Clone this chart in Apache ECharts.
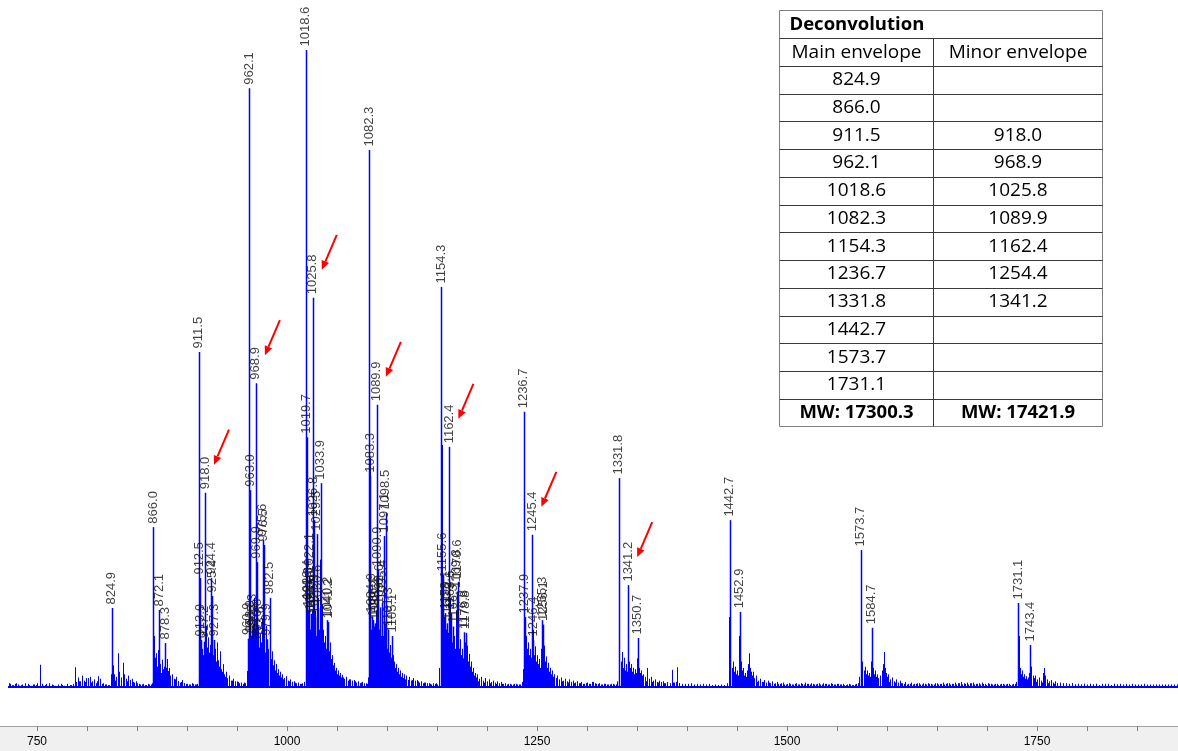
<!DOCTYPE html>
<html><head><meta charset="utf-8">
<script src="https://cdn.jsdelivr.net/npm/echarts@6/dist/echarts.min.js"></script>
<style>html,body{margin:0;padding:0;background:#fff;}#c{width:1178px;height:751px;}</style>
</head><body><div id="c"></div>
<script>
// ---------- DATA ----------
// labelled peaks: [m/z, relative intensity %]
const labeledPeaks = [
  [824.9,12.4],
  [866.0,25.1],[872.1,12.1],[878.3,6.9],
  [911.5,52.6],[912.5,17.1],[913.9,7.4],[917.2,7.1],[918.0,30.5],[924.4,17.1],[925.4,14.3],[927.3,7.4],
  [960.9,7.6],[962.1,94.0],[963.0,30.9],[963.9,8.0],[965.3,9.0],[967.8,7.2],[968.9,47.7],[969.9,19.6],[970.8,8.2],[973.6,7.0],[975.6,23.1],[976.5,22.3],[979.9,7.5],[982.5,14.0],
  [1018.6,100],[1019.7,39.2],[1020.4,13.2],[1021.3,12.0],[1022.1,17.4],[1023.5,11.5],[1024.6,10.8],[1025.8,61.1],[1026.8,26.2],[1027.9,11.0],[1029.5,24.0],[1030.6,12.4],[1033.9,32.0],[1040.2,10.5],[1041.2,10.2],
  [1082.3,84.3],[1083.3,33.1],[1084.9,11.1],[1086.1,10.5],[1088.2,10.0],[1089.9,44.3],[1090.9,18.4],[1092.6,12.5],[1095.4,13.2],[1097.1,23.7],[1098.5,27.3],[1101.3,9.0],[1105.1,8.0],
  [1154.3,62.8],[1155.6,17.6],[1158.1,11.6],[1160.2,10.0],[1162.4,37.7],[1163.6,11.6],[1166.3,9.5],[1169.8,15.0],[1170.6,16.5],[1176.8,8.6],[1178.8,8.5],
  [1236.7,43.2],[1237.9,11.0],[1245.4,23.9],[1246.4,7.4],[1255.3,10.5],[1256.1,9.8],
  [1331.8,32.8],[1341.2,16.0],[1350.7,7.7],
  [1442.7,26.2],[1452.9,11.8],
  [1573.7,21.5],[1584.7,9.3],
  [1731.1,13.2],[1743.4,6.6]
];
// unlabelled signal: shoulders, satellites and spikes [m/z, %]
const minorSignal = [
  [722,0.6],[725,0.3],[728,0.5],[731,0.4],[734,0.3],[738,0.6],[742,0.3],[746,0.4],[749,0.3],[753,3.5],[755,0.5],[758,0.3],[762,0.6],[766,0.3],[771,0.4],[775,0.3],[780,0.5],[784,0.3],[788,3.1],[789,0.8],
  [791,1.5],[793,0.9],[795,1.8],[797,1.0],[799,1.4],[801,0.7],[803,1.6],[805,0.9],[807,1.2],[809,0.6],[811,1.7],[813,0.9],[815,0.5],[818,0.4],[821,0.3],
  [824,2.0],[826,3.4],[827,2.0],[829,1.6],[831,5.3],[832,2.4],[834,1.5],[836,3.8],[837,2.0],[839,1.3],[841,1.8],[843,1.0],[845,1.3],[847,0.7],[850,0.6],[853,0.4],[856,0.5],[859,0.3],[862,0.4],[865,0.6],
  [866.6,8.0],[867.5,4.6],[868.5,5.3],[869.5,3.2],[870.5,5.8],[871.3,3.0],[873,3.6],[874,2.2],[875,4.3],[876,2.6],[877,3.2],[879.2,3.0],[880,4.4],[881,2.5],[882,3.0],[883,1.8],[885,2.0],[887,1.3],[889,1.6],[891,0.9],[893,0.7],[895,1.1],[897,0.6],[899,0.5],[902,0.4],[905,0.6],[908,0.4],[910,0.5],
  [911.9,50.0],[913,9.0],[914.5,6.0],[915.5,5.0],[916.5,4.4],[918.6,9.6],[919.5,6.2],[920.5,7.8],[921.5,5.4],[922.5,6.6],[923.5,4.8],[926,5.0],[928,6.0],[929,4.0],[930,7.0],[931,4.2],[932,3.2],[933,5.6],[934,2.8],[935,2.4],[936,3.6],[937,2.0],[938,1.6],[939,2.4],[940,1.4],[942,1.8],[944,1.0],[946,1.3],[948,0.8],[950,0.9],[952,0.6],[954,0.7],[956,0.5],[958,0.6],
  [960,2.5],[961.5,5.0],[964.4,6.0],[966,10.0],[966.8,6.5],[967.3,14.0],[968.2,9.0],[969.4,18.0],[971.2,9.5],[972,6.2],[973,8.4],[974.3,5.6],[975,10.6],[977,8.2],[978,5.4],[979,9.6],[980.5,6.0],[981.4,5.0],[983.2,7.0],[984,4.4],[985,5.6],[986,3.4],[987,4.2],[988,2.6],[989,3.6],[990,2.2],[991,2.8],[992,1.8],[993,2.4],[994,1.5],[995,2.0],[997,1.4],[999,1.7],[1001,1.0],[1003,1.2],[1005,0.8],[1007,0.9],[1009,0.6],[1011,0.7],[1013,0.5],[1015,0.6],[1017,0.8],
  [1019.1,62.0],[1020.9,9.0],[1021.7,8.0],[1022.8,9.0],[1024,8.0],[1025.2,12.0],[1026.3,14.0],[1027.4,9.0],[1028.4,12.0],[1029,8.0],[1030.1,10.0],[1031.2,14.0],[1032,9.0],[1032.8,20.0],[1033.4,12.0],[1034.6,13.0],[1035.5,9.0],[1036.5,7.0],[1037.5,8.0],[1038.5,6.0],[1039.5,7.0],[1040.8,6.0],[1042,5.6],[1043,7.0],[1044,4.4],[1045,5.0],[1046,3.4],[1047,3.8],[1048,2.6],[1049,3.0],[1050,2.0],[1051,2.6],[1052,1.8],[1053,2.2],[1054,1.5],[1055,1.9],[1057,1.3],[1059,1.6],[1061,1.0],[1063,1.2],[1065,0.9],[1067,1.1],[1069,0.7],[1071,0.9],[1073,0.6],[1075,0.8],[1077,0.5],[1079,0.6],[1081,1.5],
  [1082.8,36.0],[1083.9,9.0],[1085.5,7.0],[1086.8,9.5],[1087.5,6.0],[1088.8,8.0],[1089.4,12.0],[1090.4,14.0],[1091.5,9.0],[1092,7.0],[1093.2,10.0],[1094,8.0],[1094.8,11.0],[1096,8.0],[1096.6,12.0],[1097.7,10.0],[1099.2,9.0],[1100,6.0],[1100.7,7.0],[1102,5.4],[1103,6.6],[1104,4.6],[1105.8,5.0],[1107,4.0],[1108,3.0],[1109,3.6],[1110,2.4],[1111,3.0],[1112,2.0],[1113,2.6],[1114,1.6],[1115,2.2],[1116,1.4],[1117,2.0],[1118,1.2],[1119,1.8],[1121,1.1],[1122,1.6],[1124,1.0],[1126,1.4],[1128,0.8],[1130,1.1],[1132,0.7],[1134,0.9],[1136,0.6],[1138,0.7],[1140,0.5],[1142,0.6],[1144,0.4],[1146,0.6],[1148,0.5],[1150,0.4],[1152,0.6],[1153.5,1.5],
  [1154.8,38.0],[1156.5,11.0],[1157.3,8.0],[1158.7,9.0],[1159.5,7.0],[1160.9,8.5],[1161.6,10.0],[1163,14.0],[1164.4,9.0],[1165.2,7.0],[1167,8.0],[1168,6.0],[1168.9,12.0],[1171.3,10.0],[1172,6.0],[1173,7.5],[1174,5.0],[1175,6.0],[1176,4.5],[1177.5,7.0],[1179.5,6.5],[1180.5,4.0],[1181.5,5.2],[1182.5,3.2],[1183.5,4.0],[1184.5,2.4],[1186,3.0],[1187,1.8],[1188,2.2],[1189,1.5],[1190,2.0],[1192,1.3],[1194,1.6],[1196,1.0],[1198,1.4],[1200,0.9],[1202,1.2],[1204,0.8],[1206,1.0],[1208,0.7],[1210,0.9],[1212,0.6],[1214,0.8],[1216,0.5],[1218,0.6],[1220,0.4],[1223,0.5],[1226,0.4],[1229,0.5],[1232,0.4],[1235,0.8],
  [1237.2,40.0],[1238.5,8.0],[1239.5,6.0],[1240.5,7.0],[1241.5,5.0],[1242.5,6.0],[1243.5,4.6],[1244.5,6.0],[1245.9,9.0],[1247.2,5.0],[1248,6.4],[1249,4.0],[1250,5.0],[1251,3.6],[1252,4.4],[1253,3.0],[1254.4,6.0],[1256.8,6.5],[1257.6,4.0],[1258.5,4.8],[1259.5,3.0],[1260.5,3.8],[1261.5,2.4],[1262.5,3.0],[1263.5,2.0],[1265,2.6],[1266,1.6],[1267,2.0],[1268.5,1.4],[1270,1.8],[1272,1.2],[1274,1.5],[1276,1.0],[1278,1.3],[1280,0.9],[1282,1.2],[1284,0.8],[1286,1.0],[1288,0.7],[1290,0.9],[1292,0.6],[1294,0.8],[1297,0.5],[1300,0.7],[1303,0.5],[1306,0.8],[1309,0.5],[1312,0.6],[1315,0.4],[1318,0.5],[1321,0.4],[1324,0.5],[1327,0.4],[1330,0.9],
  [1332.3,30.9],[1333.5,4.0],[1334.5,5.5],[1335.5,3.0],[1336.5,4.6],[1337.5,2.6],[1338.5,3.6],[1339.5,2.4],[1340.6,12.9],[1342,4.0],[1343,3.0],[1344,3.6],[1345,2.4],[1346,3.0],[1347,2.0],[1348,2.8],[1349,2.2],[1350.1,4.5],[1351.5,3.0],[1352.5,2.2],[1353.5,2.6],[1355,1.8],[1356,2.0],[1358,1.6],[1360,3.0],[1362,1.3],[1364,1.6],[1366,1.0],[1368,1.2],[1370,0.8],[1372,1.0],[1374,0.7],[1376,0.9],[1378,0.6],[1380,0.8],[1383,0.5],[1385,2.7],[1387,0.7],[1390,3.1],[1392,0.6],[1395,0.4],[1398,0.5],[1401,0.4],[1404,0.6],[1407,0.4],[1410,0.5],[1413,0.4],[1416,0.5],[1419,0.4],[1422,0.5],[1425,0.3],[1428,0.4],[1431,0.3],[1434,0.4],[1437,0.3],[1440,0.6],
  [1442.2,11.0],[1443.3,5.0],[1444.5,3.0],[1445.5,4.0],[1446.5,2.4],[1447.5,3.2],[1448.5,2.0],[1449.5,2.6],[1450.5,1.8],[1451.5,3.0],[1452.3,8.0],[1453.5,4.0],[1454.5,2.6],[1455.5,3.0],[1456.5,1.8],[1458,2.2],[1459,1.6],[1460,2.6],[1461,3.6],[1462,5.3],[1463,3.0],[1464,2.4],[1465,1.8],[1466,2.4],[1467,1.4],[1469,1.8],[1471,1.0],[1473,1.3],[1475,0.8],[1477,1.1],[1479,0.7],[1481,1.0],[1483,0.6],[1485,0.9],[1487,0.5],[1490,0.8],[1493,0.5],[1496,0.7],[1499,0.4],[1502,0.6],[1505,0.4],[1508,0.5],[1511,0.4],[1514,0.6],[1517,0.4],[1520,0.5],[1523,0.4],[1526,0.5],[1529,0.4],[1532,0.6],[1535,0.4],[1538,0.5],[1541,0.4],[1544,0.6],[1547,0.4],[1550,0.5],[1553,0.4],[1556,0.5],[1559,0.3],[1562,0.5],[1565,0.3],[1568,0.4],[1571,0.6],
  [1574.2,14.0],[1575.3,4.0],[1576.5,2.6],[1577.5,3.2],[1578.5,2.0],[1579.5,2.6],[1580.5,1.8],[1581.5,2.2],[1582.5,1.6],[1583.7,4.0],[1585.5,3.0],[1586.5,2.0],[1587.5,2.6],[1588.5,1.6],[1590,2.0],[1591,1.4],[1593,1.8],[1595,2.6],[1596,3.6],[1597,5.5],[1598,3.0],[1599,2.2],[1600,1.6],[1601,2.0],[1603,1.2],[1605,1.5],[1607,0.9],[1609,1.2],[1611,0.7],[1613,1.0],[1615,0.6],[1618,0.8],[1621,0.5],[1624,0.7],[1627,0.5],[1630,0.6],[1633,0.4],[1636,0.6],[1639,0.4],[1642,0.5],[1645,0.4],[1648,0.6],[1651,0.4],[1654,0.5],[1657,0.4],[1660,0.6],[1663,0.4],[1666,0.5],[1669,0.4],[1672,0.6],[1675,0.4],[1678,0.5],[1681,0.4],[1684,0.6],[1687,0.4],[1690,0.5],[1693,0.4],[1696,0.5],[1699,0.3],[1702,0.5],[1705,0.4],[1708,0.5],[1711,0.3],[1714,0.5],[1717,0.4],[1720,0.5],[1723,0.3],[1726,0.5],[1729,0.8],
  [1731.6,8.0],[1732.7,3.0],[1734,2.0],[1735,2.6],[1736,1.6],[1737,2.0],[1738,1.3],[1739,1.7],[1740,1.2],[1741,1.5],[1742,2.2],[1744.2,3.2],[1745.5,1.8],[1747,1.4],[1748,1.8],[1750,1.2],[1752,1.5],[1754,1.0],[1756,2.2],[1757,3.0],[1758,1.8],[1760,1.2],[1762,0.9],[1764,1.1],[1766,0.7],[1768,0.9],[1770,0.6],[1773,0.7],[1776,0.5],[1779,0.6],[1782,0.4],[1785,0.6],[1788,0.4],[1791,0.5],[1794,0.4],[1797,0.5],[1800,0.3],[1803,0.5],[1806,0.4],[1809,0.5],[1812,0.3],[1815,0.5],[1818,0.4],[1821,0.5],[1824,0.3],[1827,0.5],[1830,0.4],[1833,0.5],[1836,0.3],[1839,0.4],[1842,0.3],[1845,0.5],[1848,0.3],[1851,0.4],[1854,0.3],[1857,0.5],[1860,0.3],[1863,0.4],[1866,0.3],[1869,0.4],[1872,0.3],[1875,0.4],[1878,0.3],[1881,0.4],[1884,0.3],[1887,0.4],[1890,0.3]
];
// baseline noise, read in 3-unit bins starting at m/z 722.5 (%)
const noiseStart = 722.5, noiseStep = 3;
const baselineNoise = [
  0.5,0.3,0.6,0.2,0.4,0.3,0.5,0.2,0.4,0.6,0.3,0.2,0.5,0.3,0.4,0.2,0.3,0.5,0.2,0.4,
  0.3,0.5,0.3,0.9,1.2,0.8,1.4,0.7,1.1,0.9,1.3,0.6,0.4,0.3,0.5,1.0,1.6,1.2,1.4,0.9,
  1.1,0.8,0.9,0.5,0.4,0.3,0.5,0.4,2.0,2.6,2.2,2.8,2.0,1.8,1.4,1.2,0.9,0.8,0.6,0.5,
  0.4,0.5,0.4,3.0,3.6,4.0,3.2,3.4,2.6,2.8,2.0,1.6,1.4,1.2,1.0,0.9,0.8,0.6,0.7,0.5,
  3.5,4.0,4.5,3.8,3.6,3.0,2.6,2.2,1.8,1.6,1.4,1.2,1.0,0.9,0.8,0.7,0.6,0.5,0.8,3.0,
  4.0,4.5,4.2,3.8,3.4,3.0,2.8,2.4,2.0,1.8,1.6,1.5,1.3,1.2,1.0,0.9,0.8,0.7,0.6,0.5,
  3.5,4.0,4.2,3.6,3.2,2.8,2.4,2.0,1.8,1.6,1.5,1.4,1.3,1.2,1.1,1.0,0.9,0.8,0.7,0.6,
  0.5,0.4,0.6,3.0,3.8,3.6,3.2,3.0,2.6,2.2,2.0,1.6,1.4,1.2,1.1,1.0,0.9,0.8,0.7,0.6,
  0.6,0.5,0.5,0.4,0.5,0.4,0.5,0.4,0.5,0.4,0.4,2.8,2.6,2.4,2.6,2.2,2.0,1.8,2.0,1.6,
  1.4,1.2,1.1,1.0,0.9,0.8,0.7,0.8,0.6,0.7,0.6,0.5,0.6,0.5,0.8,0.6,0.5,0.4,0.5,0.4,
  0.4,0.5,0.4,2.0,2.4,1.8,1.6,1.8,1.4,1.2,1.3,1.0,0.9,1.0,0.8,0.9,0.7,0.8,0.6,0.7,
  0.6,0.7,0.8,0.6,0.5,0.4,0.5,0.4,0.3,0.4,0.3,0.2,0.3,0.2,0.3,0.2,0.3,0.2,0.2,0.3,
  2.0,1.8,1.6,1.4,1.6,1.2,1.0,0.9,1.0,0.8,0.7,0.8,0.6,0.7,0.5,0.6,0.5,0.6,0.4,0.5,
  0.5,0.4,0.6,0.4,0.5,0.7,0.5,0.6,0.4,0.5,0.4,0.6,0.5,0.4,0.5,0.4,0.5,0.4,0.3,0.4,
  0.4,0.3,0.5,1.6,1.4,1.2,1.3,1.0,1.1,0.9,1.2,0.8,0.7,0.8,0.6,0.7,0.5,0.6,0.5,0.4,
  0.5,0.4,0.5,0.6,0.4,0.5,0.6,0.5,0.4,0.6,0.5,0.7,0.5,0.6,0.5,0.7,0.6,0.8,0.6,0.7,
  0.6,0.7,0.5,0.6,0.7,0.5,0.6,0.5,0.4,0.5,0.4,0.5,0.4,0.5,0.4,0.5,1.4,1.2,1.0,1.1,
  0.9,1.0,0.8,0.9,0.7,0.8,0.6,0.7,0.5,0.6,0.5,0.6,0.4,0.5,0.6,0.4,0.5,0.4,0.5,0.4,
  0.5,0.4,0.5,0.3,0.4,0.5,0.4,0.3,0.5,0.4,0.3,0.4,0.5,0.4,0.3,0.4,0.3,0.4,0.3,0.4,
  0.3,0.4,0.3,0.4,0.3,0.4,0.3,0.4,0.3,0.4
];
const spectrumRange = [721, 1891];
const arrowTargets = [918.0, 968.9, 1025.8, 1089.9, 1162.4, 1245.4, 1341.2];
const tickValues = [750,800,850,900,950,1000,1050,1100,1150,1200,1250,1300,1350,1400,1450,1500,1550,1600,1650,1700,1750,1800,1850];
const tickLabels = [750,1000,1250,1500,1750];
const tableTitle = 'Deconvolution';
const tableHeaders = ['Main envelope','Minor envelope'];
const mainEnvelope = ['824.9','866.0','911.5','962.1','1018.6','1082.3','1154.3','1236.7','1331.8','1442.7','1573.7','1731.1'];
const minorEnvelope = ['','','918.0','968.9','1025.8','1089.9','1162.4','1254.4','1341.2','','',''];
const mwValues = ['MW: 17300.3','MW: 17421.9'];

// ---------- CHART ----------
const chart = echarts.init(document.getElementById('c'), null, {renderer:'canvas'});
const BLUE = '#0000ff';

function stick(lw){
  return function(params, api){
    const mz = api.value(0), h = api.value(1);
    const p0 = api.coord([mz, 0]), p1 = api.coord([mz, h]);
    const x = Math.round(p0[0]) + 0.5;
    return {type:'line', shape:{x1:x, y1:p0[1], x2:x, y2:p1[1]},
      style:{stroke:BLUE, lineWidth:lw}};
  };
}

const noiseData = baselineNoise.map((h, i) => [noiseStart + i*noiseStep, h]);
const arrowData = arrowTargets.map(m => labeledPeaks.find(p => Math.abs(p[0]-m) < 0.05) || [m, 0]);

function arrow(params, api){
  const p = api.coord([api.value(0), api.value(1)]);
  const tip = [p[0] + 9, p[1] - 28];
  const tail = [p[0] + 24, p[1] - 63];
  const dx = tip[0]-tail[0], dy = tip[1]-tail[1];
  const L = Math.sqrt(dx*dx+dy*dy), ux = dx/L, uy = dy/L;
  const hl = 9, hw = 4;
  const base = [tip[0]-ux*hl, tip[1]-uy*hl];
  return {type:'group', children:[
    {type:'line', shape:{x1:tail[0], y1:tail[1], x2:base[0], y2:base[1]}, style:{stroke:'#ff0000', lineWidth:2}},
    {type:'polygon', shape:{points:[tip, [base[0]-uy*hw, base[1]+ux*hw], [base[0]+uy*hw, base[1]-ux*hw]]}, style:{fill:'#ff0000'}}
  ]};
}

// table graphic
const T = {x:779.5, y:10.5, w:323, h:416, split:933.5};
const nRows = 3 + mainEnvelope.length;
const rowH = T.h / nRows;
const tableEls = [];
tableEls.push({type:'rect', shape:{x:T.x, y:T.y, width:T.w, height:T.h}, style:{fill:'#fff', stroke:'#7f7f7f', lineWidth:1}, z:10});
for (let k = 1; k < nRows; k++) {
  const yy = Math.round(T.y + k*rowH) + 0.5;
  tableEls.push({type:'line', shape:{x1:T.x, y1:yy, x2:T.x+T.w, y2:yy}, style:{stroke:'#3a3a3a', lineWidth:1}, z:11});
}
tableEls.push({type:'line', shape:{x1:T.split, y1:Math.round(T.y+rowH)+0.5, x2:T.split, y2:T.y+T.h}, style:{stroke:'#3a3a3a', lineWidth:1}, z:11});
function txt(s, x, y, align, bold){
  return {type:'text', x:x, y:y, z:12, style:{text:s, fill:'#000',
    font:(bold ? 'bold 18.5px' : '19px') + ' "Open Sans", "Liberation Sans", sans-serif',
    align:align, verticalAlign:'middle', textAlign:align, textVerticalAlign:'middle'}};
}
const c1 = (T.x + T.split)/2, c2 = (T.split + T.x + T.w)/2;
tableEls.push(txt(tableTitle, T.x + 10, T.y + rowH*0.5, 'left', true));
tableEls.push(txt(tableHeaders[0], c1, T.y + rowH*1.5, 'center', false));
tableEls.push(txt(tableHeaders[1], c2, T.y + rowH*1.5, 'center', false));
mainEnvelope.forEach((v, i) => {
  const yy = T.y + rowH*(i+2.5);
  if (v) tableEls.push(txt(v, c1, yy, 'center', false));
  if (minorEnvelope[i]) tableEls.push(txt(minorEnvelope[i], c2, yy, 'center', false));
});
tableEls.push(txt(mwValues[0], c1, T.y + rowH*(nRows-0.5), 'center', true));
tableEls.push(txt(mwValues[1], c2, T.y + rowH*(nRows-0.5), 'center', true));

const option = {
  animation: false,
  backgroundColor: '#ffffff',
  grid: {left:0, right:0, top:0, bottom:25, containLabel:false},
  xAxis: {
    type:'value', min:713, max:1891,
    splitLine:{show:false},
    axisLine:{show:true, onZero:false, lineStyle:{color:'#a0a0a0', width:1}},
    axisTick:{show:true, customValues:tickValues, length:5, lineStyle:{color:'#808080'}},
    axisLabel:{show:true, customValues:tickLabels, margin:10, fontSize:12, color:'#000',
      fontFamily:'"Liberation Sans", Arial, sans-serif', formatter: v => String(v)}
  },
  yAxis: {type:'value', min:-6.12, max:107.85, show:false},
  graphic: {elements: [
    {type:'rect', shape:{x:0, y:726, width:1178, height:25}, style:{fill:'#f0f0f0'}, z:-1, silent:true}
  ].concat(tableEls)},
  series: [
    {type:'line', data:[[spectrumRange[0],0],[spectrumRange[1],0]], symbol:'none',
      lineStyle:{color:BLUE, width:2}, z:2, silent:true},
    {type:'custom', data:noiseData, encode:{x:0, y:1}, renderItem:stick(1), z:3, silent:true},
    {type:'custom', data:minorSignal, encode:{x:0, y:1}, renderItem:stick(1), z:3, silent:true},
    {type:'custom', data:labeledPeaks, encode:{x:0, y:1}, renderItem:stick(1.5), z:4, silent:true},
    {type:'scatter', data:labeledPeaks, symbolSize:1, itemStyle:{color:'rgba(0,0,0,0)'}, z:6, silent:true,
      label:{show:true, position:'top', rotate:90, align:'left', verticalAlign:'middle', distance:3,
        fontSize:13, color:'#111', fontFamily:'"Liberation Sans", Arial, sans-serif',
        formatter: p => p.value[0].toFixed(1)}},
    {type:'custom', data:arrowData, encode:{x:0, y:1}, renderItem:arrow, z:8, silent:true, clip:false}
  ]
};
chart.setOption(option);
</script>
</body></html>
